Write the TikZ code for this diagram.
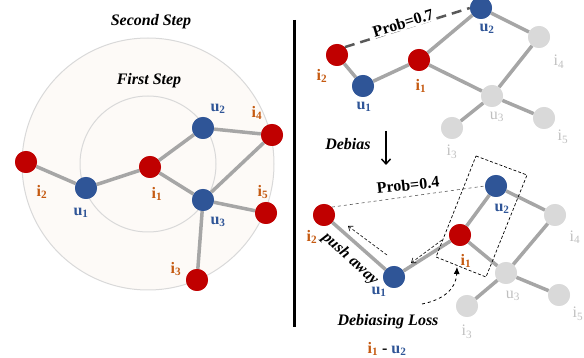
\documentclass[tikz,border=0pt]{standalone}
\usepackage{fontspec}
\setmainfont{Liberation Serif}
\usetikzlibrary{arrows.meta}

\definecolor{nodered}{HTML}{C00000}
\definecolor{nodeblue}{HTML}{2F5597}
\definecolor{nodegray}{HTML}{D9D9D9}
\definecolor{edgegray}{HTML}{A6A6A6}
\definecolor{labelorange}{HTML}{C55A11}
\definecolor{labelgray}{HTML}{BFBFBF}
\definecolor{ringfill}{HTML}{FDFAF7}
\definecolor{ringline}{HTML}{D9D9D9}
\definecolor{probline}{HTML}{595959}

\newcommand\bigfont{\fontsize{16}{19}\selectfont}

\tikzset{
  vert/.style={circle, minimum size=22pt, inner sep=0pt},
  itemv/.style={vert, fill=nodered},
  userv/.style={vert, fill=nodeblue},
  fadedv/.style={vert, fill=nodegray},
  link/.style={draw=edgegray, line width=3.5pt},
  ilab/.style={inner sep=0pt, text=labelorange, font=\bigfont\bfseries},
  ulab/.style={inner sep=0pt, text=nodeblue, font=\bigfont\bfseries},
  glab/.style={inner sep=0pt, text=labelgray, font=\bigfont},
  head/.style={inner sep=0pt, font=\bigfont\bfseries\itshape},
  plain/.style={inner sep=0pt, font=\bigfont\bfseries},
  ring/.style={draw=ringline, line width=1pt, fill=ringfill},
  pushline/.style={densely dashed, line width=0.6pt, -{Straight Barb[length=4pt,width=6pt]}},
}

\begin{document}
\begin{tikzpicture}[x=1pt, y=-1pt]
\useasboundingbox (0,0) rectangle (584,358);

% ---------- left: two-hop neighbourhood ----------
\draw[ring] (148,164) circle[radius=126];
\draw[ring] (148,164) circle[radius=68];

\node[head] (second) at (151,22) {Second Step};
\node[head] (first) at (149,81) {First Step};

\node[itemv] (Li2) at (26,162) {};
\node[userv] (Lu1) at (86,188) {};
\node[itemv] (Li1) at (150,167) {};
\node[userv] (Lu2) at (203,128) {};
\node[itemv] (Li4) at (272,135) {};
\node[userv] (Lu3) at (203,200) {};
\node[itemv] (Li5) at (266,213) {};
\node[itemv] (Li3) at (197,280) {};

\draw[link] (Li2) -- (Lu1) (Lu1) -- (Li1) (Li1) -- (Lu2) (Li1) -- (Lu3)
            (Lu2) -- (Li4) (Li4) -- (Lu3) (Lu3) -- (Li5) (Lu3) -- (Li3);

\foreach \n/\s in {Li2/itemv,Lu1/userv,Li1/itemv,Lu2/userv,Li4/itemv,Lu3/userv,Li5/itemv,Li3/itemv}
  \node[\s] at (\n) {};

\node[ilab] at (42,192) {i\textsubscript{2}};
\node[ulab] at (81,213) {u\textsubscript{1}};
\node[ilab] at (157,194) {i\textsubscript{1}};
\node[ulab] at (218,109) {u\textsubscript{2}};
\node[ilab] at (257,113) {i\textsubscript{4}};
\node[ilab] at (263,192) {i\textsubscript{5}};
\node[ulab] at (218,222) {u\textsubscript{3}};
\node[ilab] at (176,269) {i\textsubscript{3}};

% ---------- separator ----------
\coordinate (sepA) at (294,20);
\coordinate (sepB) at (294,327);
\draw[line width=3pt] (sepA) -- (sepB);

% ---------- top right: before debiasing ----------
\node[itemv] (Ti2) at (337,55) {};
\node[userv] (Tu1) at (363,86) {};
\node[itemv] (Ti1) at (419,60) {};
\node[userv] (Tu2) at (481,8) {};
\node[fadedv] (Ti4) at (539,37) {};
\node[fadedv] (Tu3) at (492,96) {};
\node[fadedv] (Ti5) at (544,118) {};
\node[fadedv] (Ti3) at (452,128) {};

\draw[link] (Ti2) -- (Tu1) (Tu1) -- (Ti1) (Ti1) -- (Tu2) (Ti1) -- (Tu3)
            (Tu2) -- (Ti4) (Ti4) -- (Tu3) (Tu3) -- (Ti5) (Tu3) -- (Ti3);
\foreach \n/\s in {Ti2/itemv,Tu1/userv,Ti1/itemv,Tu2/userv,Ti4/fadedv,Tu3/fadedv,Ti5/fadedv,Ti3/fadedv}
  \node[\s] at (\n) {};

\draw[probline, line width=2.5pt, dash pattern=on 10pt off 6pt] (Ti2.45) -- (Tu2.west);
\node[plain, fill=white, inner sep=1pt, rotate=17] (p7) at (403,23) {Prob=0.7};

\node[ilab] at (322,76) {i\textsubscript{2}};
\node[ulab] at (364,107) {u\textsubscript{1}};
\node[ilab] at (421,86) {i\textsubscript{1}};
\node[ulab] at (487,29) {u\textsubscript{2}};
\node[glab] at (559,62) {i\textsubscript{4}};
\node[glab] at (497,117) {u\textsubscript{3}};
\node[glab] at (563,137) {i\textsubscript{5}};
\node[glab] at (452,152) {i\textsubscript{3}};

% ---------- debias step ----------
\node[head] (debias) at (348,144) {Debias};
\coordinate (debA) at (386,131);
\coordinate (debB) at (386,165);
\draw[line width=1.4pt, -{Straight Barb[length=5pt,width=9pt]}] (debA) -- (debB);

% ---------- bottom right: after debiasing ----------
\node[itemv] (Bi2) at (324,215) {};
\node[userv] (Bu1) at (394,277) {};
\node[itemv] (Bi1) at (460,235) {};
\node[userv] (Bu2) at (496,186) {};
\node[fadedv] (Bi4) at (555,215) {};
\node[fadedv] (Bu3) at (506,273) {};
\node[fadedv] (Bi5) at (559,295) {};
\node[fadedv] (Bi3) at (467,306) {};

\draw[link] (Bi2) -- (Bu1) (Bu1) -- (Bi1) (Bi1) -- (Bu2) (Bi1) -- (Bu3)
            (Bu2) -- (Bi4) (Bi4) -- (Bu3) (Bu3) -- (Bi5) (Bu3) -- (Bi3);
\foreach \n/\s in {Bi2/itemv,Bu1/userv,Bi1/itemv,Bu2/userv,Bi4/fadedv,Bu3/fadedv,Bi5/fadedv,Bi3/fadedv}
  \node[\s] at (\n) {};

\draw[probline, line width=0.6pt, dashed] (Bi2.45) -- (Bu2.west);
\node[plain, rotate=6] (p4) at (408,185) {Prob=0.4};

% pair selected by the debiasing loss
\draw[densely dashed, line width=0.7pt] (476,156) -- (527,175) -- (486,277) -- (436,257) -- cycle;

\node[head, rotate=-42] (push) at (350,259) {push away};

\coordinate (pushA) at (387,255);
\coordinate (pushB) at (348,226);
\coordinate (pullA) at (442,240);
\coordinate (pullB) at (411,263);
\draw[pushline] (pushA) -- (pushB);
\draw[pushline] (pullA) -- (pullB);

\coordinate (lossA) at (422,304);
\coordinate (lossB) at (457,267);
\draw[dashed, line width=0.8pt, -{Latex[length=7pt,width=6pt]}] (lossA) .. controls (442,300) and (456,290) .. (lossB);

\node[ilab] at (312,237) {i\textsubscript{2}};
\node[ulab] at (379,292) {u\textsubscript{1}};
\node[ilab] at (466,261) {i\textsubscript{1}};
\node[ulab] at (502,209) {u\textsubscript{2}};
\node[glab] at (575,237) {i\textsubscript{4}};
\node[glab] at (513,296) {u\textsubscript{3}};
\node[glab] at (578,314) {i\textsubscript{5}};
\node[glab] at (467,332) {i\textsubscript{3}};

\node[head] (loss) at (388,322) {Debiasing Loss};
\node[plain] (pair) at (387,349) {\textcolor{labelorange}{i\textsubscript{1}} - \textcolor{nodeblue}{u\textsubscript{2}}};

\end{tikzpicture}
\end{document}
